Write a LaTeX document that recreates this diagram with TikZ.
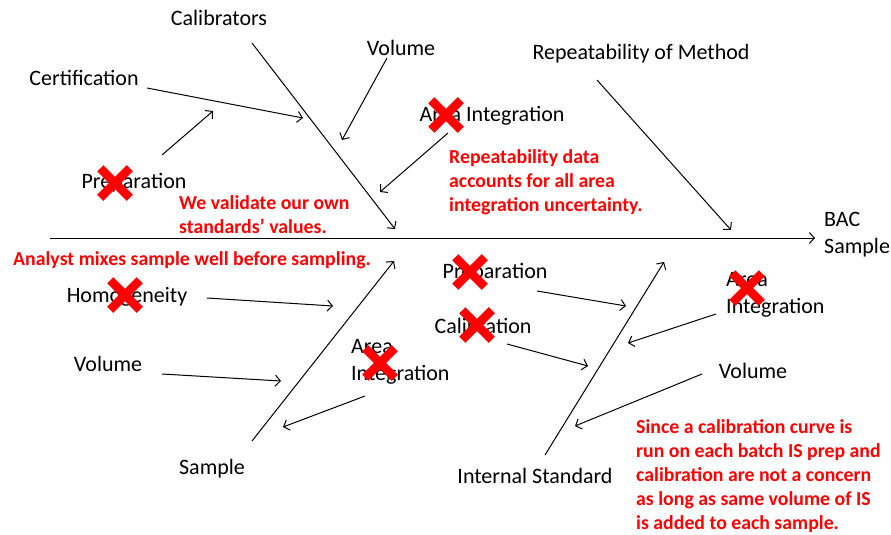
\documentclass[tikz,border=0pt]{standalone}
\usepackage{fontspec}
\setmainfont{Carlito}
\usetikzlibrary{shapes.misc, arrows.meta}

\begin{document}
\begin{tikzpicture}[
    x=1pt, y=-1pt,
    label/.style = { inner sep=0pt, font=\fontsize{22}{27}\selectfont },
    note/.style = { inner sep=0pt, text=red, align=left, anchor=west,
                    font=\fontsize{19.8}{24}\selectfont\bfseries },
    cross/.style = { cross out, draw=red, line width=8.5pt, inner sep=0pt, minimum size=21pt },
    bone/.style = { -{Straight Barb[length=5pt, width=11pt]}, line width=1pt },
    ]

    \useasboundingbox (0,0) rectangle (891,535);

    % spine
    \coordinate (tail) at (50,238);
    \coordinate (head) at (815,238);
    \draw[bone] (tail) -- (head);
    \node[label, anchor=west, align=left] (bac) at (824,235) {BAC\\Sample};

    % upper bones
    \node[label] (calibrators) at (219,18) {Calibrators};
    \coordinate (calA) at (252,43);
    \coordinate (calB) at (395,229);
    \draw[bone] (calA) -- (calB);

    \node[label] (repeat) at (641,54) {Repeatability of Method};
    \coordinate (repA) at (597,80);
    \coordinate (repB) at (731,230);
    \draw[bone] (repA) -- (repB);

    % causes on calibrators
    \node[label] (cert) at (84,78) {Certification};
    \coordinate (certA) at (147,88);
    \coordinate (certB) at (303,118);
    \draw[bone] (certA) -- (certB);

    \node[label] (prepU) at (134,183) {Preparation};
    \node[cross] (xprepU) at (115,183) {};
    \coordinate (prepUA) at (162,155);
    \coordinate (prepUB) at (213,111);
    \draw[bone] (prepUA) -- (prepUB);

    \node[label] (volU) at (401,48) {Volume};
    \coordinate (volUA) at (387,58);
    \coordinate (volUB) at (342,140);
    \draw[bone] (volUA) -- (volUB);

    \node[label] (areaU) at (492,116) {Area Integration};
    \node[cross] (xareaU) at (446,115) {};
    \coordinate (areaUA) at (448,133);
    \coordinate (areaUB) at (380,192);
    \draw[bone] (areaUA) -- (areaUB);

    % lower bones
    \node[label] (sample) at (212,469) {Sample};
    \coordinate (smpA) at (252,441);
    \coordinate (smpB) at (394,261);
    \draw[bone] (smpA) -- (smpB);

    \node[label] (intstd) at (535,476) {Internal Standard};
    \coordinate (isA) at (545,455);
    \coordinate (isB) at (664,262);
    \draw[bone] (isA) -- (isB);

    % causes on sample
    \node[label] (homog) at (127,297) {Homogeneity};
    \node[cross] (xhomog) at (125,295) {};
    \coordinate (homA) at (207,298);
    \coordinate (homB) at (333,306);
    \draw[bone] (homA) -- (homB);

    \node[label] (volS) at (108,364) {Volume};
    \coordinate (volSA) at (162,374);
    \coordinate (volSB) at (281,381);
    \draw[bone] (volSA) -- (volSB);

    \node[label, anchor=west, align=left] (areaS) at (351,362) {Area\\Integration};
    \node[cross] (xareaS) at (380,363) {};
    \coordinate (areaSA) at (365,396);
    \coordinate (areaSB) at (283,427);
    \draw[bone] (areaSA) -- (areaSB);

    % causes on internal standard
    \node[label] (prepI) at (495,273) {Preparation};
    \node[cross] (xprepI) at (470,272) {};
    \coordinate (prepIA) at (537,291);
    \coordinate (prepIB) at (626,306);
    \draw[bone] (prepIA) -- (prepIB);

    \node[label] (calI) at (483,326) {Calibration};
    \node[cross] (xcalI) at (477,325) {};
    \coordinate (calIA) at (507,344);
    \coordinate (calIB) at (588,366);
    \draw[bone] (calIA) -- (calIB);

    \node[label, anchor=west, align=left] (areaI) at (726,295) {Area\\Integration};
    \node[cross] (xareaI) at (747,288) {};
    \coordinate (areaIA) at (716,314);
    \coordinate (areaIB) at (628,343);
    \draw[bone] (areaIA) -- (areaIB);

    \node[label] (volI) at (753,371) {Volume};
    \coordinate (volIA) at (702,374);
    \coordinate (volIB) at (575,426);
    \draw[bone] (volIA) -- (volIB);

    % notes
    \node[note] (noteStd) at (179,215) {We validate our own\\standards’ values.};
    \node[note] (noteMix) at (13,260) {Analyst mixes sample well before sampling.};
    \node[note] (noteRep) at (449,182) {Repeatability data\\accounts for all area\\integration uncertainty.};
    \node[note] (noteIS) at (636,476) {Since a calibration curve is\\run on each batch IS prep and\\calibration are not a concern\\as long as same volume of IS\\is added to each sample.};

\end{tikzpicture}
\end{document}
